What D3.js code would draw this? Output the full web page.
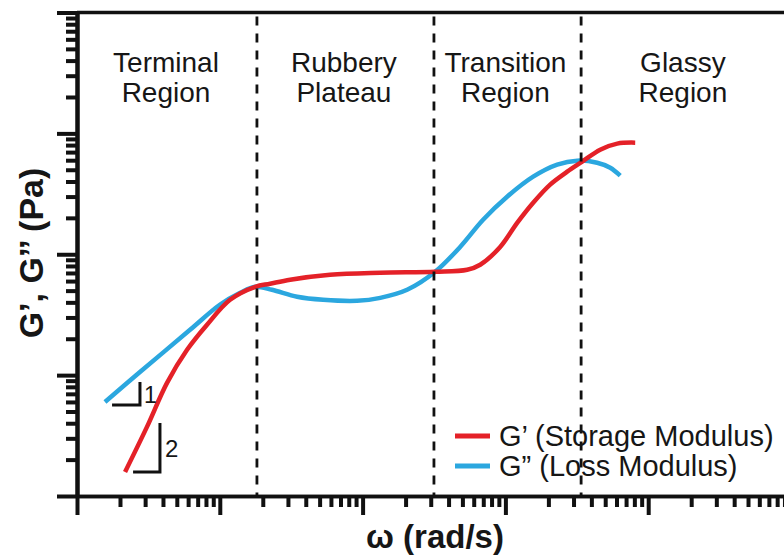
<!DOCTYPE html>
<html>
<head>
<meta charset="utf-8">
<script src="https://cdn.jsdelivr.net/npm/d3@7"></script>
<style>
  html, body { margin: 0; padding: 0; background: #fff; }
  svg { display: block; }
  text { font-family: "Liberation Sans", Arial, sans-serif; fill: #161616; }
</style>
</head>
<body>
<svg id="chart" width="784" height="559"></svg>
<script>
// ---- data ----
const omegaStorage = [2.17, 3.09, 4.27, 5.90, 8.14, 11.8, 17.7, 22.5, 31.1, 59.2, 133, 322, 540, 666, 919, 1209, 1565, 2058, 2709, 3450, 4610, 6070, 8110];
const storageModulus = [1.58, 3.73, 8.63, 16.2, 26.1, 42.0, 53.8, 57.0, 61.5, 67.6, 70.3, 71.6, 74.4, 81.9, 115, 182, 267, 377, 482, 584, 733, 823, 838];

const omegaLoss = [1.57, 2.76, 6.19, 10.0, 13.9, 17.7, 23.2, 34.8, 52.9, 91.5, 133, 205, 322, 482, 698, 1028, 1565, 2305, 3180, 4390, 5420, 6370];
const lossModulus = [6.0, 10.6, 23.7, 38.2, 48.0, 53.8, 50.8, 44.5, 42.0, 41.2, 43.6, 50.8, 71.6, 115, 193, 299, 438, 551, 595, 572, 520, 447];

const regionBounds = [18.2, 316, 3390];
const regionNames = [["Terminal", "Region"], ["Rubbery", "Plateau"], ["Transition", "Region"], ["Glassy", "Region"]];
const regionCenters = [4.2, 74, 1000, 17500];

const seriesNames = ["G\u2019 (Storage Modulus)", "G\u201D (Loss Modulus)"];
const seriesColors = ["#e42128", "#2ba7df"];

// slope triangles: [x0, x1, yLow, yHigh], label
const slopeTriangles = [
  { x0: 1.76, x1: 2.76, y0: 5.67, y1: 8.79, label: "1" },
  { x0: 2.47, x1: 3.81, y0: 1.58, y1: 4.02, label: "2" }
];

const xDomain = [1, 1e5];
const yDomain = [1, 1e4];

// ---- scales ----
const svg = d3.select("#chart");
const x = d3.scaleLog().domain(xDomain).range([77, 791]);
const y = d3.scaleLog().domain(yDomain).range([496, 12.5]);

const isMajor = v => Math.abs(Math.log10(v) - Math.round(Math.log10(v))) < 1e-9;
const xt = x.ticks();
const yt = y.ticks();

// ---- axes ----
function styleAxis(g, domainW) {
  g.selectAll(".tick line").attr("stroke", "#111").attr("stroke-width", 4);
  g.select(".domain").attr("stroke", "#111").attr("stroke-width", domainW);
}

svg.append("g").attr("transform", "translate(0,496)")
  .call(d3.axisBottom(x).tickValues(xt.filter(v => !isMajor(v))).tickSize(11).tickSizeOuter(0).tickFormat(""))
  .call(g => styleAxis(g, 3.5));
svg.append("g").attr("transform", "translate(0,496)")
  .call(d3.axisBottom(x).tickValues(xt.filter(isMajor)).tickSize(19).tickSizeOuter(0).tickFormat(""))
  .call(g => styleAxis(g, 3.5));

svg.append("g").attr("transform", "translate(77,0)")
  .call(d3.axisLeft(y).tickValues(yt.filter(v => !isMajor(v))).tickSize(11).tickSizeOuter(0).tickFormat(""))
  .call(g => styleAxis(g, 4));
svg.append("g").attr("transform", "translate(77,0)")
  .call(d3.axisLeft(y).tickValues(yt.filter(isMajor)).tickSize(20).tickSizeOuter(0).tickFormat(""))
  .call(g => styleAxis(g, 4));

// top frame line
svg.append("line")
  .attr("x1", x(xDomain[0])).attr("x2", 784)
  .attr("y1", y(yDomain[1])).attr("y2", y(yDomain[1]))
  .attr("stroke", "#111").attr("stroke-width", 3.5);

// ---- curves ----
const line = d3.line().x(d => x(d[0])).y(d => y(d[1])).curve(d3.curveCatmullRom.alpha(0.5));
const lossData = omegaLoss.map((w, i) => [w, lossModulus[i]]);
const storageData = omegaStorage.map((w, i) => [w, storageModulus[i]]);

svg.append("path").datum(lossData).attr("d", line)
  .attr("fill", "none").attr("stroke", seriesColors[1]).attr("stroke-width", 4.5)
  .attr("stroke-linecap", "butt");
svg.append("path").datum(storageData).attr("d", line)
  .attr("fill", "none").attr("stroke", seriesColors[0]).attr("stroke-width", 4.5)
  .attr("stroke-linecap", "butt");

// ---- region dividers ----
svg.selectAll(".divider").data(regionBounds).enter().append("line")
  .attr("x1", d => x(d)).attr("x2", d => x(d))
  .attr("y1", y(yDomain[1]) + 4).attr("y2", y(yDomain[0]))
  .attr("stroke", "#111").attr("stroke-width", 2.8)
  .attr("stroke-dasharray", "9,8");

// ---- region labels ----
regionNames.forEach((lines, i) => {
  lines.forEach((t, j) => {
    svg.append("text")
      .attr("x", x(regionCenters[i])).attr("y", 72 + j * 30)
      .attr("text-anchor", "middle").attr("font-size", 28)
      .text(t);
  });
});

// ---- slope triangles ----
slopeTriangles.forEach(s => {
  svg.append("path")
    .attr("d", `M${x(s.x0)},${y(s.y0)}H${x(s.x1)}V${y(s.y1)}`)
    .attr("fill", "none").attr("stroke", "#111").attr("stroke-width", 3);
});
svg.append("text").attr("x", x(slopeTriangles[0].x1) + 4).attr("y", y(slopeTriangles[0].y0) - 2)
  .attr("font-size", 23).text(slopeTriangles[0].label);
svg.append("text").attr("x", x(slopeTriangles[1].x1) + 5).attr("y", y(slopeTriangles[1].y0) - 15)
  .attr("font-size", 24).text(slopeTriangles[1].label);

// ---- legend ----
seriesNames.forEach((name, i) => {
  const ly = 436 + i * 30;
  svg.append("line").attr("x1", 455).attr("x2", 490).attr("y1", ly).attr("y2", ly)
    .attr("stroke", seriesColors[i]).attr("stroke-width", 5);
  svg.append("text").attr("x", 499).attr("y", ly + 10)
    .attr("font-size", 29).text(name);
});

// ---- axis titles ----
svg.append("text")
  .attr("transform", "translate(43,253) rotate(-90)")
  .attr("text-anchor", "middle").attr("font-size", 34).attr("font-weight", "bold")
  .text("G\u2019, G\u2019\u2019 (Pa)");

svg.append("text")
  .attr("x", 435).attr("y", 548)
  .attr("text-anchor", "middle").attr("font-size", 33).attr("font-weight", "bold")
  .text("\u03C9 (rad/s)");
</script>
</body>
</html>
